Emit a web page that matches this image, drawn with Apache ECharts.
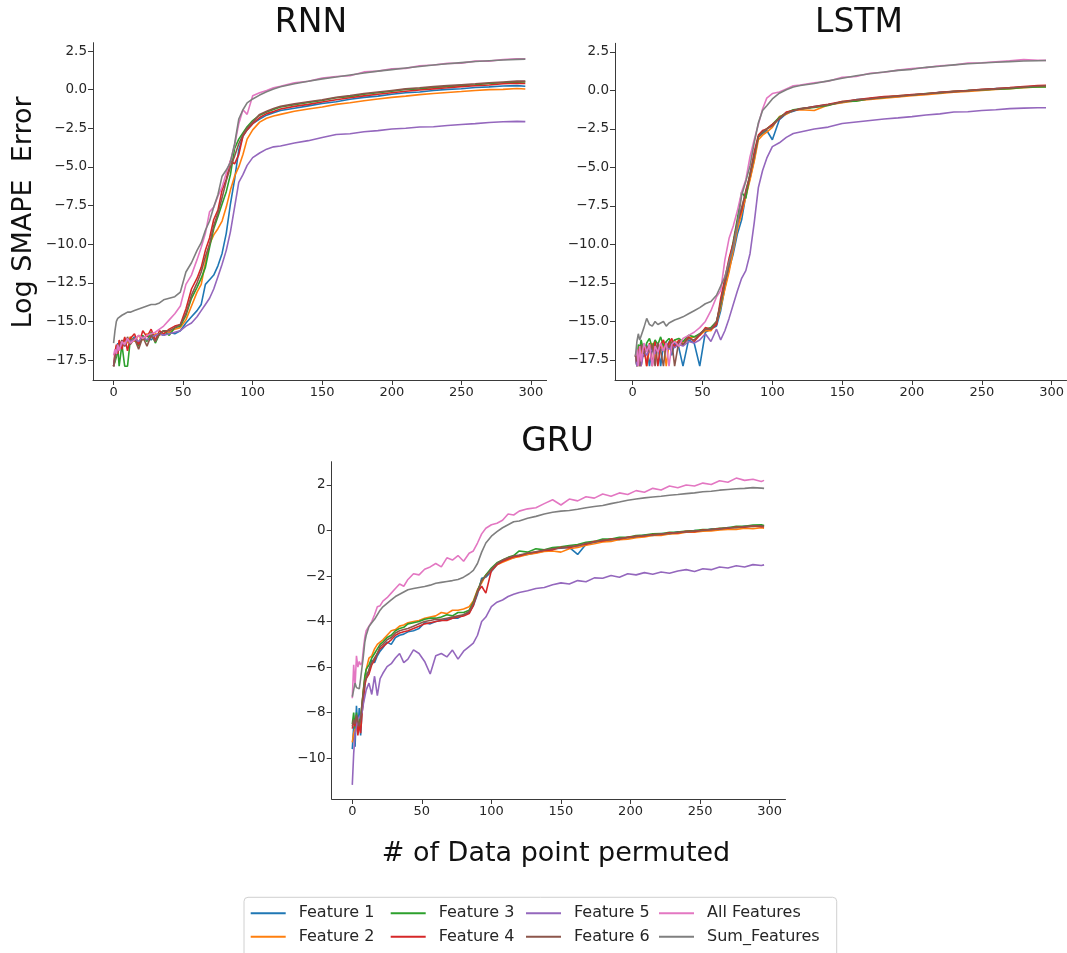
<!DOCTYPE html>
<html><head><meta charset="utf-8">
<script src="https://cdn.jsdelivr.net/npm/echarts@6/dist/echarts.min.js"></script>
<style>html,body{margin:0;padding:0;background:#fff}#c{width:1067px;height:953px}</style>
</head><body><div id="c"></div><script>
// ---------- names, colours, ticks ----------
const seriesNames = ['Feature 1','Feature 2','Feature 3','Feature 4','Feature 5','Feature 6','All Features','Sum_Features'];
const seriesColors = ['#1f77b4','#ff7f0e','#2ca02c','#d62728','#9467bd','#8c564b','#e377c2','#7f7f7f'];
const panelTitles = ['RNN','LSTM','GRU'];
const xTicks = [0,50,100,150,200,250,300];
const yTicksTop = [2.5,0,-2.5,-5,-7.5,-10,-12.5,-15,-17.5];
const yTicksGru = [2,0,-2,-4,-6,-8,-10];

// ---------- RNN ----------
const rnnX = [0,1,2,3,4,6,8,10,12,15,18,21,24,27,30,33,36,40,44,48, 52,56,60,63,66,69,72,75,78,81,84,87,90,93,96,100, 105,110,115,120,130,140,150,160,170,180,190,200,210,220,230,240,250,260,270,280,290,296];
const rnnF1 = [-17.9,-17.2,-16.8,-16.4,-16.9,-16.3,-16.6,-16.2,-16.3,-16.0,-16.4,-16.1,-15.9,-16.2,-15.9,-15.8,-15.9,-15.7,-15.8,-15.6, -15.1,-14.7,-14.3,-13.9,-12.6,-12.3,-12.0,-11.4,-10.6,-9.3,-7.4,-5.8,-3.9,-3.0,-2.6,-2.2, -1.9,-1.65,-1.5,-1.35,-1.2,-1.05,-0.9,-0.78,-0.62,-0.5,-0.42,-0.3,-0.2,-0.15,-0.05,0.02,0.06,0.14,0.18,0.24,0.26,0.22];
const rnnF2 = [-17.9,-17.5,-16.6,-16.9,-16.3,-16.7,-16.1,-16.4,-16.0,-16.3,-15.9,-16.2,-15.8,-16.0,-15.8,-15.9,-15.6,-15.7,-15.5,-15.4, -14.9,-14.0,-13.1,-12.6,-11.2,-10.0,-9.4,-9.0,-8.5,-7.6,-6.5,-5.6,-5.0,-4.2,-3.2,-2.6, -2.1,-1.85,-1.7,-1.6,-1.4,-1.25,-1.12,-0.95,-0.85,-0.72,-0.6,-0.5,-0.42,-0.32,-0.25,-0.18,-0.12,-0.05,0.0,0.02,0.08,0.04];
const rnnF3 = [-17.9,-17.9,-17.3,-16.7,-17.9,-16.5,-17.9,-17.9,-16.2,-16.1,-16.6,-15.9,-16.3,-15.7,-16.4,-15.8,-15.6,-15.9,-15.4,-15.3, -14.6,-13.5,-12.8,-12.2,-11.5,-10.2,-9.0,-8.2,-7.4,-6.6,-5.5,-3.8,-3.2,-2.8,-2.4,-2.0, -1.65,-1.45,-1.28,-1.12,-0.98,-0.82,-0.7,-0.52,-0.45,-0.3,-0.2,-0.1,0.02,0.05,0.15,0.2,0.28,0.32,0.4,0.45,0.48,0.5];
const rnnF4 = [-17.9,-17.0,-16.5,-17.1,-16.2,-16.8,-16.0,-16.9,-16.1,-15.8,-16.5,-15.6,-16.0,-15.5,-16.2,-15.6,-15.8,-15.5,-15.3,-15.2, -14.2,-12.9,-12.2,-11.5,-10.4,-9.6,-8.4,-7.8,-6.5,-5.8,-4.6,-4.8,-4.2,-3.0,-2.6,-2.2, -1.8,-1.55,-1.42,-1.25,-1.08,-0.95,-0.8,-0.65,-0.52,-0.4,-0.3,-0.2,-0.1,-0.02,0.05,0.12,0.2,0.25,0.3,0.38,0.42,0.4];
const rnnF5 = [-17.9,-17.4,-17.0,-16.6,-16.8,-16.4,-16.5,-16.2,-16.3,-16.1,-16.3,-16.0,-16.2,-16.0,-15.9,-15.8,-15.9,-15.8,-15.7,-15.6, -15.3,-15.1,-14.7,-14.3,-13.9,-13.5,-12.9,-12.1,-11.3,-10.4,-9.2,-7.6,-6.0,-5.5,-4.9,-4.4, -4.1,-3.85,-3.7,-3.65,-3.45,-3.3,-3.1,-2.9,-2.85,-2.72,-2.65,-2.55,-2.5,-2.42,-2.4,-2.32,-2.25,-2.2,-2.12,-2.08,-2.05,-2.07];
const rnnF6 = [-17.9,-17.9,-16.9,-16.5,-16.7,-16.2,-16.6,-16.0,-16.5,-16.1,-16.8,-16.0,-16.6,-15.9,-16.3,-15.8,-15.6,-15.6,-15.4,-15.2, -14.5,-13.3,-12.5,-11.8,-10.8,-10.0,-8.8,-8.0,-7.0,-5.9,-5.0,-4.3,-3.5,-2.9,-2.5,-2.1, -1.6,-1.4,-1.22,-1.08,-0.92,-0.78,-0.65,-0.5,-0.38,-0.25,-0.15,-0.05,0.05,0.12,0.2,0.26,0.32,0.38,0.45,0.5,0.55,0.55];
const rnnAll = [-17.2,-16.8,-17.1,-16.5,-16.9,-16.3,-16.5,-16.1,-16.4,-16.2,-15.9,-16.1,-15.9,-15.8,-15.7,-15.5,-15.3,-14.9,-14.5,-14.0, -12.6,-12.0,-11.0,-10.2,-9.3,-7.9,-7.6,-6.9,-6.3,-5.4,-4.6,-3.6,-2.2,-1.3,-1.6,-0.4, -0.2,-0.05,0.12,0.22,0.45,0.55,0.75,0.85,0.9,1.15,1.2,1.35,1.38,1.55,1.6,1.7,1.72,1.85,1.85,1.95,2.0,2.0];
const rnnSum = [-16.4,-15.6,-15.0,-14.8,-14.7,-14.6,-14.5,-14.4,-14.4,-14.3,-14.2,-14.1,-14.0,-13.9,-13.9,-13.8,-13.6,-13.5,-13.4,-13.1, -11.8,-11.2,-10.4,-9.9,-9.1,-8.5,-7.6,-6.8,-5.6,-5.2,-4.7,-3.5,-1.9,-1.3,-0.85,-0.6, -0.35,-0.13,0.05,0.19,0.38,0.55,0.7,0.82,0.95,1.08,1.2,1.3,1.4,1.5,1.6,1.68,1.75,1.82,1.87,1.92,1.96,1.98];

// ---------- LSTM ----------
const lstmX = [2,3,4,5,6,8,10,12,14,16,18,20,22,24,26,28,30,33,36,40,44,48, 52,56,60,63,66,69,72,75,78,81,84,87,90,93,96,100, 105,110,115,120,130,140,150,160,170,180,190,200,210,220,230,240,250,260,270,280,290,296];
const lstmF1 = [-17.2,-17.9,-16.8,-17.9,-16.6,-17.3,-16.5,-17.9,-16.6,-17.0,-16.4,-17.9,-16.5,-16.8,-16.3,-17.2,-16.4,-16.7,-17.9,-16.2,-16.4,-17.9, -15.7,-15.5,-15.3,-14.3,-12.8,-11.6,-10.6,-9.3,-8.4,-6.8,-5.7,-4.5,-3.0,-2.8,-2.6,-3.2, -1.9,-1.5,-1.35,-1.2,-1.05,-0.92,-0.78,-0.6,-0.55,-0.42,-0.4,-0.28,-0.25,-0.12,-0.1,0.0,0.02,0.12,0.14,0.24,0.25,0.3];
const lstmF2 = [-17.2,-16.9,-17.9,-16.7,-17.1,-16.5,-17.9,-16.8,-16.4,-17.5,-16.5,-16.9,-16.3,-17.9,-16.4,-16.6,-16.2,-16.6,-16.3,-16.1,-16.0,-15.9, -15.6,-15.6,-15.1,-14.1,-12.9,-11.8,-10.4,-9.0,-8.0,-6.9,-5.8,-4.6,-3.2,-2.9,-2.7,-2.4, -1.7,-1.55,-1.28,-1.25,-1.3,-0.95,-0.8,-0.66,-0.58,-0.5,-0.42,-0.35,-0.28,-0.2,-0.12,-0.06,0.0,0.06,0.12,0.18,0.22,0.25];
const lstmF3 = [-17.2,-17.9,-16.5,-16.8,-16.2,-17.0,-16.4,-16.1,-16.7,-16.2,-16.5,-16.0,-16.6,-16.3,-16.1,-16.5,-16.2,-16.1,-16.3,-15.9,-16.0,-15.8, -15.5,-15.4,-15.0,-13.9,-12.4,-11.2,-9.8,-8.3,-6.6,-7.0,-5.4,-4.2,-3.0,-2.7,-2.5,-2.2, -1.75,-1.45,-1.25,-1.2,-1.1,-0.98,-0.72,-0.7,-0.52,-0.45,-0.35,-0.3,-0.2,-0.15,-0.05,0.0,0.04,0.08,0.12,0.2,0.22,0.22];
const lstmF4 = [-17.2,-17.9,-17.0,-16.6,-17.9,-16.6,-17.9,-16.4,-17.9,-16.3,-17.9,-16.5,-16.2,-16.8,-16.4,-16.1,-16.7,-16.2,-16.5,-16.0,-16.3,-15.9, -15.4,-15.5,-15.2,-13.5,-12.2,-10.9,-9.9,-8.6,-7.8,-6.5,-5.5,-4.0,-2.9,-2.6,-2.5,-2.2, -1.85,-1.4,-1.3,-1.2,-1.05,-0.9,-0.72,-0.6,-0.5,-0.4,-0.35,-0.27,-0.22,-0.12,-0.06,0.0,0.08,0.12,0.18,0.25,0.32,0.33];
const lstmF5 = [-17.2,-17.9,-17.3,-16.9,-17.9,-16.9,-17.2,-16.8,-16.9,-17.1,-16.7,-16.8,-16.9,-16.6,-16.8,-16.6,-16.7,-16.5,-16.6,-16.3,-16.4,-16.2, -15.8,-16.3,-15.5,-16.2,-15.6,-14.8,-13.9,-13.0,-12.2,-11.7,-10.6,-8.6,-6.3,-5.2,-4.4,-3.65, -3.4,-3.05,-2.8,-2.7,-2.5,-2.38,-2.15,-2.05,-1.95,-1.85,-1.78,-1.7,-1.6,-1.52,-1.4,-1.38,-1.3,-1.25,-1.18,-1.15,-1.12,-1.12];
const lstmF6 = [-17.2,-17.6,-16.9,-17.9,-16.5,-17.1,-16.6,-17.0,-16.5,-17.9,-16.4,-16.9,-17.9,-16.4,-16.7,-16.3,-17.9,-16.3,-16.5,-16.1,-16.2,-15.8, -15.5,-15.5,-15.0,-13.8,-12.5,-11.3,-10.0,-8.5,-7.6,-6.6,-5.5,-4.3,-3.0,-2.7,-2.5,-2.3, -1.8,-1.48,-1.32,-1.18,-1.08,-0.93,-0.75,-0.62,-0.55,-0.44,-0.38,-0.3,-0.22,-0.14,-0.08,-0.02,0.05,0.1,0.16,0.22,0.27,0.3];
const lstmAll = [-17.2,-16.8,-17.9,-16.6,-17.6,-16.4,-17.0,-16.5,-17.9,-16.6,-17.0,-16.4,-16.9,-16.4,-17.9,-16.5,-16.3,-16.6,-16.1,-15.9,-15.7,-15.4, -15.0,-14.3,-13.4,-13.0,-11.0,-9.6,-8.8,-7.8,-6.6,-5.8,-4.3,-3.2,-2.2,-1.2,-0.5,-0.2, -0.1,0.1,0.3,0.35,0.5,0.6,0.85,0.9,1.12,1.18,1.32,1.42,1.48,1.6,1.65,1.78,1.8,1.86,1.92,2.0,1.96,1.95];
const lstmSum = [-17.2,-16.3,-15.8,-16.2,-16.2,-15.4,-14.8,-15.2,-15.3,-15.0,-15.2,-15.1,-15.0,-15.3,-15.1,-15.0,-14.9,-14.8,-14.7,-14.5,-14.3,-14.1, -13.85,-13.7,-13.3,-12.7,-12.1,-11.1,-10.2,-8.7,-6.8,-5.9,-4.9,-3.4,-2.1,-1.3,-1.0,-0.55, -0.18,0.05,0.22,0.32,0.45,0.62,0.79,0.95,1.08,1.2,1.3,1.37,1.5,1.57,1.66,1.73,1.78,1.83,1.87,1.91,1.93,1.94];

// ---------- GRU ----------
const gruX = [0,1,2,3,4,5,6,7,8,9,10, 12,14,16,18,20,22, 25,28,31,34,37,40, 44,48,52,56,60,64,68,72,76,80,84, 87,90,93,96, 100,104,108,112,116,120, 126,132, 138,144,150,156,162,168,174,180,186,192,198,204,210,216,222,228,234,240,246,252,258,264,270,276,282,288,294,296];
const gruF1 = [-9.6,-8.6,-9.5,-7.7,-8.8,-7.8,-9.0,-7.9,-7.3,-6.8,-6.3, -6.2,-5.7,-5.8,-5.5,-5.3,-5.15, -4.9,-5.0,-4.7,-4.6,-4.55,-4.45, -4.4,-4.3,-4.05,-4.1,-4.0,-3.95,-3.9,-3.85,-3.85,-3.7,-3.6, -3.3,-2.8,-2.1,-2.05, -1.8,-1.5,-1.35,-1.25,-1.2,-1.1, -1.05,-0.98, -0.9,-0.8,-0.78,-0.74,-1.05,-0.6,-0.52,-0.45,-0.38,-0.4,-0.3,-0.3,-0.2,-0.22,-0.14,-0.15,-0.06,-0.08,0.0,-0.02,0.06,0.05,0.13,0.12,0.18,0.18,0.22,0.2];
const gruF2 = [-9.3,-8.9,-8.7,-8.4,-8.9,-8.2,-8.6,-7.7,-7.0,-6.5,-6.1, -5.6,-5.5,-5.2,-5.0,-4.9,-4.8, -4.6,-4.4,-4.35,-4.2,-4.15,-4.05, -4.0,-3.95,-3.85,-3.8,-3.75,-3.6,-3.65,-3.5,-3.5,-3.45,-3.35, -3.1,-2.6,-2.3,-1.95, -1.75,-1.5,-1.4,-1.3,-1.2,-1.15, -1.05,-1.0, -0.92,-0.9,-0.95,-0.8,-0.75,-0.65,-0.58,-0.5,-0.48,-0.4,-0.38,-0.32,-0.28,-0.22,-0.22,-0.15,-0.14,-0.08,-0.08,-0.03,-0.02,0.02,0.05,0.05,0.1,0.08,0.12,0.1];
const gruF3 = [-8.5,-8.0,-8.7,-8.0,-8.6,-8.4,-8.2,-7.6,-7.0,-6.4,-6.1, -5.9,-5.6,-5.4,-5.2,-5.0,-4.9, -4.7,-4.6,-4.4,-4.3,-4.25,-4.1, -4.05,-4.0,-3.9,-3.85,-3.85,-3.8,-3.7,-3.75,-3.6,-3.6,-3.5, -3.15,-2.65,-2.2,-1.95, -1.65,-1.42,-1.3,-1.18,-1.1,-0.9, -0.95,-0.8, -0.85,-0.75,-0.72,-0.66,-0.62,-0.52,-0.48,-0.38,-0.38,-0.3,-0.3,-0.22,-0.2,-0.15,-0.14,-0.08,-0.07,-0.02,0.0,0.04,0.05,0.1,0.12,0.18,0.18,0.24,0.25,0.22];
const gruF4 = [-8.7,-8.4,-8.6,-8.2,-9.0,-8.5,-8.9,-8.0,-7.5,-6.8,-6.5, -6.3,-5.9,-5.7,-5.4,-5.2,-5.1, -4.95,-4.8,-4.6,-4.5,-4.45,-4.4, -4.3,-4.2,-4.1,-4.05,-4.0,-3.95,-3.95,-3.85,-3.8,-3.75,-3.65, -3.3,-2.7,-2.45,-2.75, -1.75,-1.5,-1.35,-1.25,-1.15,-1.12, -1.0,-0.95, -0.88,-0.85,-0.74,-0.76,-0.66,-0.6,-0.48,-0.46,-0.38,-0.38,-0.3,-0.26,-0.24,-0.18,-0.17,-0.1,-0.11,-0.04,-0.05,0.02,0.03,0.08,0.1,0.15,0.14,0.2,0.17,0.15];
const gruF5 = [-11.17,-9.8,-8.9,-8.6,-8.3,-8.2,-8.1,-8.0,-7.6,-7.3,-7.0, -6.7,-7.2,-6.4,-7.25,-6.5,-6.27, -5.98,-5.85,-5.6,-5.4,-5.8,-5.65, -5.24,-5.4,-5.75,-6.3,-5.5,-5.4,-5.55,-5.25,-5.65,-5.3,-5.1, -4.95,-4.6,-4.0,-3.8, -3.34,-3.15,-3.05,-2.9,-2.8,-2.72, -2.65,-2.55, -2.5,-2.38,-2.3,-2.35,-2.2,-2.25,-2.08,-2.1,-1.98,-2.05,-1.9,-1.95,-1.85,-1.92,-1.82,-1.88,-1.78,-1.72,-1.8,-1.68,-1.72,-1.6,-1.65,-1.55,-1.6,-1.5,-1.54,-1.51];
const gruF6 = [-8.6,-8.3,-8.5,-8.1,-8.4,-8.6,-8.3,-7.6,-7.1,-6.6,-6.5, -6.1,-5.8,-5.6,-5.4,-5.1,-5.0, -4.8,-4.7,-4.5,-4.4,-4.35,-4.3, -4.2,-4.1,-4.0,-3.95,-3.9,-3.9,-3.85,-3.8,-3.75,-3.7,-3.55, -3.2,-2.7,-2.2,-2.0, -1.7,-1.45,-1.3,-1.2,-1.12,-1.08, -1.0,-0.93, -0.86,-0.8,-0.77,-0.7,-0.68,-0.56,-0.52,-0.42,-0.42,-0.34,-0.32,-0.26,-0.22,-0.2,-0.15,-0.13,-0.08,-0.06,-0.02,0.0,0.05,0.06,0.12,0.13,0.17,0.21,0.2,0.18];
const gruAll = [-7.37,-5.9,-6.85,-5.5,-6.0,-5.75,-5.9,-5.8,-5.2,-4.7,-4.4, -4.2,-4.0,-3.7,-3.35,-3.3,-3.1, -2.95,-2.75,-2.55,-2.35,-2.45,-2.15, -1.9,-1.95,-1.7,-1.6,-1.45,-1.6,-1.2,-1.3,-1.1,-1.35,-1.0, -0.9,-0.55,-0.15,0.1, 0.25,0.32,0.45,0.72,0.68,0.85, 0.95,1.0, 1.18,1.35,1.12,1.38,1.3,1.48,1.42,1.6,1.5,1.65,1.58,1.75,1.68,1.85,1.78,1.95,1.88,2.0,1.95,2.08,2.02,2.18,2.12,2.3,2.2,2.25,2.15,2.2];
const gruSum = [-7.3,-7.0,-6.7,-6.9,-6.85,-6.95,-6.5,-6.0,-5.5,-4.9,-4.6, -4.22,-4.05,-3.9,-3.7,-3.5,-3.35, -3.2,-3.05,-2.9,-2.8,-2.7,-2.6, -2.55,-2.5,-2.46,-2.4,-2.32,-2.28,-2.24,-2.2,-2.15,-2.05,-1.9, -1.75,-1.45,-0.95,-0.55, -0.25,-0.05,0.12,0.25,0.38,0.42, 0.54,0.62, 0.72,0.8,0.85,0.88,0.93,1.0,1.05,1.1,1.18,1.25,1.33,1.38,1.43,1.47,1.5,1.55,1.58,1.62,1.65,1.7,1.72,1.77,1.8,1.83,1.85,1.88,1.86,1.85];

// ---------- build ----------
const panels = [
  {x: rnnX, ys: [rnnF1,rnnF2,rnnF3,rnnF4,rnnF5,rnnF6,rnnAll,rnnSum]},
  {x: lstmX, ys: [lstmF1,lstmF2,lstmF3,lstmF4,lstmF5,lstmF6,lstmAll,lstmSum]},
  {x: gruX, ys: [gruF1,gruF2,gruF3,gruF4,gruF5,gruF6,gruAll,gruSum]}
];
const FONT = 'DejaVu Sans';
const grids = [
  {left: 93, top: 42.7, width: 453.6, height: 337.3},
  {left: 615, top: 43.3, width: 453.4, height: 336.7},
  {left: 331.7, top: 461.7, width: 453.8, height: 337.3}
];
const xRanges = [[-14.8, 311.3], [-12.7, 310.7], [-14.8, 311.4]];
const yRanges = [[-18.79, 3.04], [-18.8, 3.06], [-11.79, 3.02]];
const yTickSets = [yTicksTop, yTicksTop, yTicksGru];
const minus = s => s.replace('-', '\u2212');

const axisLineStyle = {color: '#3a3a3a', width: 1};
const xAxes = grids.map((g, i) => ({
  type: 'value', gridIndex: i, min: xRanges[i][0], max: xRanges[i][1],
  axisLine: {show: true, lineStyle: axisLineStyle, onZero: false},
  axisTick: {show: true, customValues: xTicks, length: 5, lineStyle: axisLineStyle},
  axisLabel: {customValues: xTicks, fontSize: 13, color: '#262626', fontFamily: FONT, margin: 6,
    formatter: v => minus(String(v))},
  splitLine: {show: false}
}));
const yAxes = grids.map((g, i) => ({
  type: 'value', gridIndex: i, min: yRanges[i][0], max: yRanges[i][1],
  axisLine: {show: true, lineStyle: axisLineStyle, onZero: false},
  axisTick: {show: true, customValues: yTickSets[i], length: 5, lineStyle: axisLineStyle},
  axisLabel: {customValues: yTickSets[i], fontSize: 13.5, color: '#262626', fontFamily: FONT, margin: 6,
    formatter: v => minus(i < 2 ? Number(v).toFixed(1) : String(Math.round(v)))},
  splitLine: {show: false}
}));

const series = [];
panels.forEach((p, gi) => {
  p.ys.forEach((ys, si) => {
    series.push({
      type: 'line', name: seriesNames[si], xAxisIndex: gi, yAxisIndex: gi,
      data: p.x.map((xv, k) => [xv, ys[k]]),
      showSymbol: false, symbol: 'none', smooth: false,
      lineStyle: {color: seriesColors[si], width: 1.6},
      itemStyle: {color: seriesColors[si]},
      z: 2 + si, animation: false
    });
  });
});

const legendColX = [250.7, 390.7, 526, 659];
const legendRowY = [912.3, 935.7];
const legends = seriesNames.map((n, i) => ({
  data: [n], orient: 'horizontal',
  left: legendColX[Math.floor(i / 2)], top: legendRowY[i % 2] - 7,
  padding: 0, itemGap: 0, itemWidth: 35, itemHeight: 2, icon: 'rect',
  textStyle: {fontSize: 16, color: '#262626', fontFamily: FONT, padding: [0, 0, 0, 8]},
  selectedMode: false
}));

const titleText = (text, x, y) => ({
  type: 'text', x: x, y: y, silent: true,
  style: {text: text, fill: '#111', font: '33px "DejaVu Sans"', textAlign: 'center', textVerticalAlign: 'middle'}
});

const chart = echarts.init(document.getElementById('c'), null, {renderer: 'canvas'});
chart.setOption({
  animation: false,
  backgroundColor: '#fff',
  grid: grids.map(g => Object.assign({containLabel: false}, g)),
  xAxis: xAxes,
  yAxis: yAxes,
  legend: legends,
  series: series,
  graphic: [
    {type: 'rect', shape: {x: 244, y: 897.3, width: 592.7, height: 80, r: 4}, silent: true, z: -1,
      style: {fill: '#fff', stroke: '#d0d0d0', lineWidth: 1}},
    titleText(panelTitles[0], 311, 23),
    titleText(panelTitles[1], 859, 23),
    titleText(panelTitles[2], 557.5, 442),
    {type: 'text', x: 23.5, y: 212.5, rotation: Math.PI / 2, silent: true,
      style: {text: 'Log SMAPE  Error', fill: '#111', font: '27px "DejaVu Sans"', textAlign: 'center', textVerticalAlign: 'middle'}},
    {type: 'text', x: 556, y: 854, silent: true,
      style: {text: '# of Data point permuted', fill: '#111', font: '27px "DejaVu Sans"', textAlign: 'center', textVerticalAlign: 'middle'}}
  ]
});
</script></body></html>
